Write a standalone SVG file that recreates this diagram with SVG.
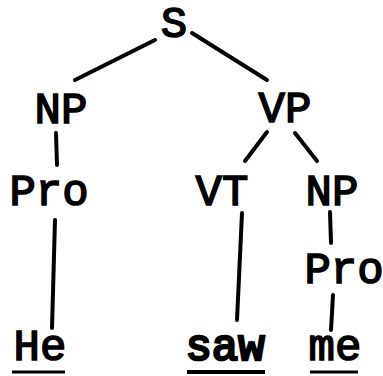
<svg xmlns="http://www.w3.org/2000/svg" width="383" height="376" viewBox="0 0 383 376">
<style>
text{font-family:"Liberation Mono","Courier New",monospace;font-size:44px;font-weight:normal;fill:#000;stroke:#000;stroke-width:1.6;text-anchor:middle}
.b{stroke-width:2.6}
.e{stroke:#000;stroke-width:4;stroke-linecap:round;fill:none}
.u{stroke:#000;stroke-width:3;fill:none}
</style>
<rect width="383" height="376" fill="#fff"/>
<g id="connectors">
<line class="e" x1="155" y1="40" x2="75" y2="80"/>
<line class="e" x1="192" y1="33" x2="267" y2="80"/>
<line class="e" x1="56" y1="133" x2="57" y2="165"/>
<line class="e" x1="267" y1="132" x2="245" y2="161"/>
<line class="e" x1="295" y1="133" x2="317" y2="161"/>
<line class="e" x1="55" y1="220" x2="52" y2="328"/>
<line class="e" x1="242" y1="213" x2="237" y2="320"/>
<line class="e" x1="330" y1="212" x2="331" y2="243"/>
<line class="e" x1="333" y1="295" x2="331" y2="330"/>
</g>
<g id="S"><text x="174" y="37">S</text></g>
<g id="NP1"><text x="61" y="123">NP</text></g>
<g id="VP"><text x="285" y="122">VP</text></g>
<g id="Pro1"><text x="49" y="205">Pro</text></g>
<g id="VT"><text x="222" y="205">VT</text></g>
<g id="NP2"><text x="332" y="205">NP</text></g>
<g id="Pro2"><text x="344" y="283">Pro</text></g>
<g id="He"><text x="40" y="360">He</text><line class="u" x1="12" y1="372" x2="65" y2="372"/></g>
<g id="saw"><text class="b" x="225" y="360">saw</text><line class="u" x1="187" y1="372" x2="265" y2="372" style="stroke-width:4"/></g>
<g id="me"><text x="335" y="360">me</text><line class="u" x1="310" y1="372" x2="358" y2="372"/></g>
</svg>
